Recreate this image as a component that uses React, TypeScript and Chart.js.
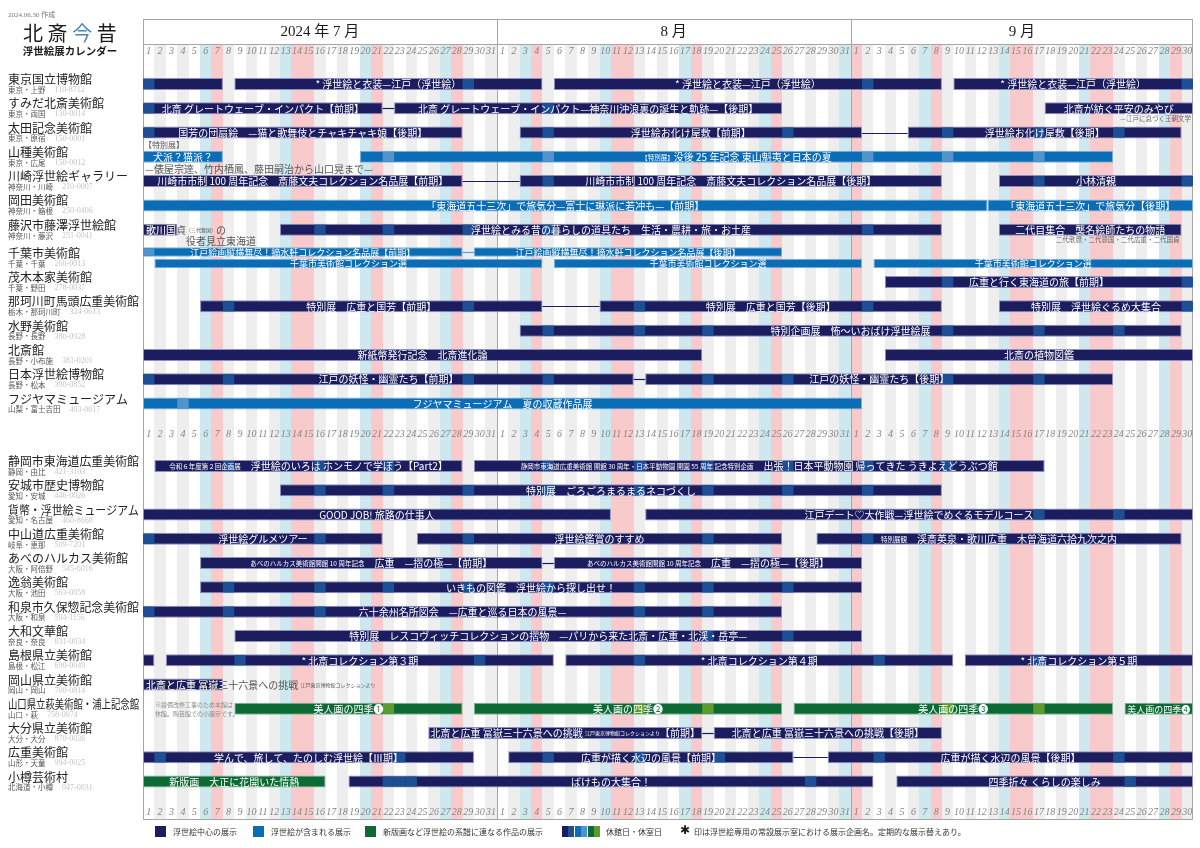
import React, { useEffect, useRef } from 'react';
import { Chart, registerables } from 'chart.js';

Chart.register(...registerables);

// ---------------- data ----------------
const createdNote = '2024.06.30 作成';
const titleChars = ['北', '斎', '今', '昔'];
const titleSub = '浮世絵展カレンダー';
const monthLabels = ['2024 年 7 月', '8 月', '9 月'];
const monthNumbers = [7, 8, 9];
const monthLengths = [31, 31, 30];
const holidays = ['7/15', '8/12', '9/16', '9/23'];

const museumNames = [
  '東京国立博物館', 'すみだ北斎美術館', '太田記念美術館', '山種美術館', '川崎浮世絵ギャラリー',
  '岡田美術館', '藤沢市藤澤浮世絵館', '千葉市美術館', '茂木本家美術館', '那珂川町馬頭広重美術館',
  '水野美術館', '北斎館', '日本浮世絵博物館', 'フジヤマミュージアム',
  '静岡市東海道広重美術館', '安城市歴史博物館', '貨幣・浮世絵ミュージアム', '中山道広重美術館',
  'あべのハルカス美術館', '逸翁美術館', '和泉市久保惣記念美術館', '大和文華館', '島根県立美術館',
  '岡山県立美術館', '山口県立萩美術館・浦上記念館', '大分県立美術館', '広重美術館', '小樽芸術村',
];
const museumPlaces = [
  '東京・上野', '東京・両国', '東京・原宿', '東京・広尾', '神奈川・川崎',
  '神奈川・箱根', '神奈川・藤沢', '千葉・千葉', '千葉・野田', '栃木・那珂川町',
  '長野・長野', '長野・小布施', '長野・松本', '山梨・富士吉田',
  '静岡・由比', '愛知・安城', '愛知・名古屋', '岐阜・恵那',
  '大阪・阿倍野', '大阪・池田', '大阪・和泉', '奈良・奈良', '島根・松江',
  '岡山・岡山', '山口・萩', '大分・大分', '山形・天童', '北海道・小樽',
];
const museumPostcodes = [
  '110-8712', '130-0014', '150-0001', '150-0012', '210-0007',
  '250-0406', '251-0041', '260-0013', '278-0037', '324-0613',
  '380-0928', '381-0201', '390-0852', '403-0017',
  '421-3103', '446-0026', '460-8660', '509-7201',
  '545-6016', '563-0058', '594-1156', '631-0034', '690-0049',
  '700-0814', '758-0074', '870-0036', '994-0025', '047-0031',
];
const groupSizes = [14, 14];

type Kind = 'u' | 'i' | 'n';
type Ex = { m: number; track?: number; from: string; to: string; kind: Kind; title: string; sub?: string; pre?: string; link?: boolean };

const exhibitions: Ex[] = [
  { m: 0, from: '7/1', to: '7/7', kind: 'u', title: '' },
  { m: 0, from: '7/9', to: '8/4', kind: 'u', title: '* 浮世絵と衣装—江戸（浮世絵）' },
  { m: 0, from: '8/6', to: '9/8', kind: 'u', title: '* 浮世絵と衣装—江戸（浮世絵）' },
  { m: 0, from: '9/10', to: '9/30', kind: 'u', title: '* 浮世絵と衣装—江戸（浮世絵）' },
  { m: 1, from: '7/1', to: '7/21', kind: 'u', title: '北斎 グレートウェーブ・インパクト【前期】' },
  { m: 1, from: '7/23', to: '8/25', kind: 'u', title: '北斎 グレートウェーブ・インパクト—神奈川沖浪裏の誕生と軌跡—【後期】', link: true },
  { m: 1, from: '9/18', to: '9/30', kind: 'u', title: '北斎が紡ぐ平安のみやび', sub: '—江戸に息づく王朝文学' },
  { m: 2, from: '7/1', to: '7/28', kind: 'u', title: '国芳の団扇絵　—猫と歌舞伎とチャキチャキ娘【後期】' },
  { m: 2, from: '8/3', to: '9/1', kind: 'u', title: '浮世絵お化け屋敷【前期】' },
  { m: 2, from: '9/6', to: '9/29', kind: 'u', title: '浮世絵お化け屋敷【後期】', link: true },
  { m: 3, from: '7/1', to: '7/7', kind: 'i', title: '犬派？猫派？', pre: '【特別展】', sub: '—俵屋宗達、竹内栖鳳、藤田嗣治から山口晃まで—' },
  { m: 3, from: '7/20', to: '9/23', kind: 'i', title: '{【特別展】}没後 25 年記念 東山魁夷と日本の夏' },
  { m: 4, from: '7/1', to: '7/28', kind: 'u', title: '川崎市市制 100 周年記念　斎藤文夫コレクション名品展【前期】' },
  { m: 4, from: '8/3', to: '9/8', kind: 'u', title: '川崎市市制 100 周年記念　斎藤文夫コレクション名品展【後期】', link: true },
  { m: 4, from: '9/14', to: '9/30', kind: 'u', title: '小林清親' },
  { m: 5, from: '7/1', to: '9/12', kind: 'i', title: '「東海道五十三次」で旅気分—富士に琳派に若冲も—【前期】' },
  { m: 5, from: '9/13', to: '9/30', kind: 'i', title: '「東海道五十三次」で旅気分【後期】', link: true },
  { m: 6, from: '7/1', to: '7/3', kind: 'u', title: '歌川国貞{（三代豊国）}の', sub: '役者見立東海道' },
  { m: 6, from: '7/13', to: '9/8', kind: 'u', title: '浮世絵とみる昔の暮らしの道具たち　生活・農耕・旅・お土産' },
  { m: 6, from: '9/14', to: '9/29', kind: 'u', title: '二代目集合　襲名絵師たちの物語', sub: '二代歌麿・二代豊国・二代広重・二代国貞' },
  { m: 7, track: 0, from: '7/1', to: '7/28', kind: 'i', title: '江戸絵画縦横無尽！摘水軒コレクション名品展【前期】' },
  { m: 7, track: 0, from: '7/30', to: '8/25', kind: 'i', title: '江戸絵画縦横無尽！摘水軒コレクション名品展【後期】', link: true },
  { m: 7, track: 1, from: '7/2', to: '8/4', kind: 'i', title: '千葉市美術館コレクション選' },
  { m: 7, track: 1, from: '8/6', to: '9/1', kind: 'i', title: '千葉市美術館コレクション選' },
  { m: 7, track: 1, from: '9/3', to: '9/30', kind: 'i', title: '千葉市美術館コレクション選' },
  { m: 8, from: '9/4', to: '9/30', kind: 'u', title: '広重と行く東海道の旅【前期】' },
  { m: 9, from: '7/6', to: '8/4', kind: 'u', title: '特別展　広重と国芳【前期】' },
  { m: 9, from: '8/10', to: '9/8', kind: 'u', title: '特別展　広重と国芳【後期】', link: true },
  { m: 9, from: '9/14', to: '9/30', kind: 'u', title: '特別展　浮世絵ぐるめ大集合' },
  { m: 10, from: '8/3', to: '9/29', kind: 'u', title: '特別企画展　怖～いおばけ浮世絵展' },
  { m: 11, from: '7/1', to: '8/18', kind: 'u', title: '新紙幣発行記念　北斎進化論' },
  { m: 11, from: '9/4', to: '9/30', kind: 'u', title: '北斎の植物図鑑' },
  { m: 12, from: '7/1', to: '8/12', kind: 'u', title: '江戸の妖怪・幽霊たち【前期】' },
  { m: 12, from: '8/14', to: '9/23', kind: 'u', title: '江戸の妖怪・幽霊たち【後期】', link: true },
  { m: 13, from: '7/1', to: '9/1', kind: 'i', title: 'フジヤマミュージアム　夏の収蔵作品展' },
  { m: 14, from: '7/2', to: '7/28', kind: 'u', title: '{令和６年度第２回企画展}　浮世絵のいろは ホンモノで学ぼう【Part2】' },
  { m: 14, from: '7/30', to: '9/17', kind: 'u', title: '{静岡市東海道広重美術館 開館 30 周年・日本平動物園 開園 55 周年 記念特別企画}　出張！日本平動物園 帰ってきた うきよえどうぶつ館' },
  { m: 15, from: '7/13', to: '9/8', kind: 'u', title: '特別展　ごろごろまるまるネコづくし' },
  { m: 16, from: '7/1', to: '8/10', kind: 'u', title: 'GOOD JOB! 旅路の仕事人' },
  { m: 16, from: '8/14', to: '9/30', kind: 'u', title: '江戸デート♡大作戦—浮世絵でめぐるモデルコース' },
  { m: 17, from: '7/1', to: '7/21', kind: 'u', title: '浮世絵グルメツアー' },
  { m: 17, from: '7/25', to: '8/25', kind: 'u', title: '浮世絵鑑賞のすすめ' },
  { m: 17, from: '8/29', to: '9/29', kind: 'u', title: '{特別展観}　渓斎英泉・歌川広重　木曽海道六拾九次之内' },
  { m: 18, from: '7/6', to: '8/4', kind: 'u', title: '{あべのハルカス美術館開館 10 周年記念}　広重　—摺の極—【前期】' },
  { m: 18, from: '8/6', to: '9/1', kind: 'u', title: '{あべのハルカス美術館開館 10 周年記念}　広重　—摺の極—【後期】', link: true },
  { m: 19, from: '7/6', to: '9/1', kind: 'u', title: 'いきもの図鑑　浮世絵から探し出せ！' },
  { m: 20, from: '7/1', to: '8/25', kind: 'u', title: '六十余州名所図会　—広重と巡る日本の風景—' },
  { m: 21, from: '7/9', to: '9/1', kind: 'u', title: '特別展　レスコヴィッチコレクションの摺物　—パリから来た北斎・広重・北渓・岳亭—' },
  { m: 22, from: '7/1', to: '7/1', kind: 'u', title: '' },
  { m: 22, from: '7/3', to: '8/5', kind: 'u', title: '* 北斎コレクション第３期' },
  { m: 22, from: '8/7', to: '9/9', kind: 'u', title: '* 北斎コレクション第４期' },
  { m: 22, from: '9/11', to: '9/30', kind: 'u', title: '* 北斎コレクション第５期' },
  { m: 23, from: '7/1', to: '7/7', kind: 'u', title: '北斎と広重 冨嶽三十六景への挑戦 {江戸東京博物館コレクションより}' },
  { m: 24, from: '7/9', to: '7/28', kind: 'n', title: '美人画の四季❶' },
  { m: 24, from: '7/30', to: '8/25', kind: 'n', title: '美人画の四季❷' },
  { m: 24, from: '8/27', to: '9/23', kind: 'n', title: '美人画の四季❸' },
  { m: 24, from: '9/25', to: '9/30', kind: 'n', title: '美人画の四季❹' },
  { m: 25, from: '7/26', to: '8/18', kind: 'u', title: '北斎と広重 冨嶽三十六景への挑戦 {江戸東京博物館コレクションより}【前期】' },
  { m: 25, from: '8/20', to: '9/8', kind: 'u', title: '北斎と広重 冨嶽三十六景への挑戦【後期】', link: true },
  { m: 26, from: '7/1', to: '7/29', kind: 'u', title: '学んで、旅して、たのしむ浮世絵【Ⅲ期】' },
  { m: 26, from: '8/2', to: '8/26', kind: 'u', title: '広重が描く水辺の風景【前期】' },
  { m: 26, from: '8/30', to: '9/30', kind: 'u', title: '広重が描く水辺の風景【後期】', link: true },
  { m: 27, from: '7/1', to: '7/16', kind: 'n', title: '新版画　大正に花開いた情熱' },
  { m: 27, from: '7/19', to: '9/2', kind: 'u', title: 'ばけもの大集合！' },
  { m: 27, from: '9/5', to: '9/30', kind: 'u', title: '四季折々 くらしの楽しみ' },
];

// [museum, track, closed dates]
const closedDays: [number, number, string[]][] = [
  [0, 0, ['7/1', '7/29', '9/2', '9/30']],
  [1, 0, ['7/1', '8/5']],
  [2, 0, ['7/1', '8/5', '8/26', '9/9', '9/17', '9/24']],
  [3, 0, ['7/22', '8/5', '9/2', '9/9', '9/17']],
  [4, 0, ['8/5', '9/17', '9/30']],
  [6, 0, ['7/16', '7/22', '7/29', '8/5', '9/2']],
  [7, 0, ['7/1']],
  [8, 0, ['9/9', '9/30']],
  [9, 0, ['7/8', '7/29', '8/13', '9/2', '9/30']],
  [10, 0, ['8/5', '8/13', '8/19', '9/9', '9/17', '9/24']],
  [12, 0, ['7/1', '7/8', '7/29', '8/5', '8/19', '8/26', '9/9', '9/17']],
  [13, 0, ['7/4']],
  [14, 0, ['7/8', '7/16', '7/22', '8/5', '8/13', '8/19', '8/26', '9/2', '9/9']],
  [15, 0, ['7/16', '7/22', '7/29', '8/5', '8/13', '8/19', '8/26', '9/2']],
  [16, 0, ['9/17', '9/24']],
  [17, 0, ['7/1', '7/16', '7/29', '8/19', '9/2']],
  [19, 0, ['7/8', '7/16', '7/22', '7/29', '8/5', '8/13', '8/19', '8/26']],
  [20, 0, ['7/1', '7/8', '7/16', '8/13', '8/19']],
  [21, 0, ['8/19', '8/26']],
  [22, 0, ['7/9', '7/30', '8/13', '9/3', '9/17']],
  [24, 0, ['7/22', '8/13', '8/19', '9/9', '9/17']],
  [26, 0, ['7/2', '7/23', '8/5', '8/13', '8/20', '9/3', '9/24']],
  [27, 0, ['7/22', '7/23', '7/24', '8/28', '9/25']],
];

const museumNotes: [number, string[]][] = [
  [24, ['※設備改修工事のため本館は', '休館。陶芸館での小展示です。']],
];

const legendKinds: [Kind, string][] = [
  ['u', '浮世絵中心の展示'],
  ['i', '浮世絵が含まれる展示'],
  ['n', '新版画など浮世絵の系譜に連なる作品の展示'],
];
const legendClosed = '休館日・休室日';
const legendNote = '印は浮世絵専用の常設展示室における展示企画名。定期的な展示替えあり。';

// ---------------- styles / layout ----------------
const FONT_JP = '"Noto Sans CJK JP", "Noto Sans", sans-serif';
const FONT_SERIF = '"Liberation Serif", "DejaVu Serif", "Noto Sans CJK JP", serif';
const COLORS: Record<Kind, { fill: string; closed: string; border: string }> = {
  u: { fill: '#1c1d5e', closed: '#1c4f93', border: '#8d8fbf' },
  i: { fill: '#0a6db6', closed: '#4f94cd', border: '#79b1dc' },
  n: { fill: '#0c6b35', closed: '#5c9b2e', border: '#7fb492' },
};
const SAT = '#cde8ee';
const SUN = '#f8cacb';
const GRAY = '#eeeeee';
const WHITE = '#ffffff';

const PX = { top: 19, bottom: 820, left: 143, right: 1193 };
const ROW_PX = 24.28;
const Y_MAX = (PX.bottom - PX.top) / ROW_PX;
const HEADER_UNITS = (44 - PX.top) / ROW_PX;
const LEGEND_X = [155, 253, 365];

const monthStarts = monthLengths.map((_, i) => monthLengths.slice(0, i).reduce((a, b) => a + b, 0));
const TOTAL_DAYS = monthLengths.reduce((a, b) => a + b, 0);

function dayIndex(s: string) {
  const [m, d] = s.split('/').map(Number);
  return monthStarts[monthNumbers.indexOf(m)] + d - 1;
}

function dayInfo() {
  const fills: string[] = [];
  const nums: number[] = [];
  let run = 1;
  monthNumbers.forEach((mo, mi) => {
    for (let d = 1; d <= monthLengths[mi]; d++) {
      const wd = new Date(2024, mo - 1, d).getDay();
      nums.push(d);
      if (wd === 6) { fills.push(SAT); run = 0; }
      else if (wd === 0 || holidays.includes(`${mo}/${d}`)) { fills.push(SUN); run = 0; }
      else { fills.push(run % 2 === 0 ? GRAY : WHITE); run++; }
    }
  });
  return { fills, nums };
}

function buildLayout() {
  const trackCount = museumNames.map((_, m) => 1 + Math.max(0, ...exhibitions.filter((e) => e.m === m).map((e) => e.track || 0)));
  const centers: number[] = [];
  const tracks: number[][] = [];
  const dayRows: number[] = [1.318];
  let y = 2.677;
  let m = 0;
  groupSizes.forEach((n, g) => {
    if (g > 0) {
      const last = centers[centers.length - 1];
      dayRows.push(last + 1.255);
      y = last + 2.574;
    }
    for (let k = 0; k < n; k++, m++) {
      if (trackCount[m] > 1) {
        y += 0.158;
        centers[m] = y;
        tracks[m] = [y - 0.2375, y + 0.2375];
      } else {
        centers[m] = y;
        tracks[m] = [y];
      }
      y += 1;
    }
  });
  dayRows.push(centers[centers.length - 1] + 1.25);
  return { trackCount, centers, tracks, dayRows };
}

function parseSegs(t: string) {
  const segs: { text: string; small: boolean }[] = [];
  const re = /\{([^}]*)\}|([^{]+)/g;
  let mm: RegExpExecArray | null;
  while ((mm = re.exec(t))) {
    if (mm[1] !== undefined) segs.push({ text: mm[1], small: true });
    else segs.push({ text: mm[2], small: false });
  }
  return segs;
}
function measureSegs(ctx: CanvasRenderingContext2D, segs: any[], big: number, small: number) {
  let w = 0;
  segs.forEach((s) => {
    ctx.font = `${s.small ? small : big}px ${FONT_JP}`;
    w += ctx.measureText(s.text).width;
  });
  return w;
}
function drawSegs(ctx: CanvasRenderingContext2D, segs: any[], x: number, y: number, big: number, small: number, color: string) {
  let cx = x;
  ctx.fillStyle = color;
  segs.forEach((s) => {
    ctx.font = `${s.small ? small : big}px ${FONT_JP}`;
    ctx.fillText(s.text, cx, y);
    cx += ctx.measureText(s.text).width;
  });
}

export default function App() {
  const ref = useRef<HTMLCanvasElement>(null);

  useEffect(() => {
    const canvas = ref.current;
    if (!canvas) return;
    const layout = buildLayout();
    const { fills, nums } = dayInfo();

    const datasets: any[] = [];
    const refs: (Ex | null)[][] = [];
    const barIdx: Record<string, number> = {};
    const patchIdx: Record<string, number> = {};
    (['u', 'i', 'n'] as Kind[]).forEach((k) => {
      [false, true].forEach((thin) => {
        barIdx[k + thin] = datasets.length;
        datasets.push({
          label: k + (thin ? '-thin' : ''), data: [], backgroundColor: COLORS[k].fill, borderColor: COLORS[k].border,
          borderWidth: 1, borderSkipped: false, grouped: false, barPercentage: 10, categoryPercentage: 1,
          maxBarThickness: thin ? 9.5 : 12, order: 2,
        });
        refs.push([]);
      });
    });
    (['u', 'i', 'n'] as Kind[]).forEach((k) => {
      [false, true].forEach((thin) => {
        patchIdx[k + thin] = datasets.length;
        datasets.push({
          label: k + '-closed' + (thin ? '-thin' : ''), data: [], backgroundColor: COLORS[k].closed, borderWidth: 0,
          grouped: false, barPercentage: 10, categoryPercentage: 1, maxBarThickness: thin ? 7.5 : 10, order: 1,
        });
        refs.push([]);
      });
    });

    exhibitions.forEach((ex) => {
      const thin = layout.trackCount[ex.m] > 1;
      const di = barIdx[ex.kind + thin];
      datasets[di].data.push({ x: [dayIndex(ex.from), dayIndex(ex.to) + 1], y: layout.tracks[ex.m][ex.track || 0] });
      refs[di].push(ex);
    });
    closedDays.forEach(([m, t, dates]) => {
      dates.forEach((d) => {
        const di = dayIndex(d);
        const ex = exhibitions.find((e) => e.m === m && (e.track || 0) === t && dayIndex(e.from) <= di && di <= dayIndex(e.to));
        if (!ex) return;
        const thin = layout.trackCount[m] > 1;
        const pi = patchIdx[ex.kind + thin];
        datasets[pi].data.push({ x: [di, di + 1], y: layout.tracks[m][t] });
        refs[pi].push(null);
      });
    });

    const calendarPlugin = {
      id: 'calendar',
      beforeDatasetsDraw(chart: any) {
        const { ctx, chartArea: ca } = chart;
        const xs = chart.scales.x;
        const ys = chart.scales.y;
        const px = (d: number) => Math.round(xs.getPixelForValue(d));
        const py = (v: number) => ys.getPixelForValue(v);
        const hb = Math.round(py(HEADER_UNITS));
        ctx.save();
        fills.forEach((c, i) => {
          if (c === WHITE) return;
          ctx.fillStyle = c;
          ctx.fillRect(px(i), hb, px(i + 1) - px(i), ca.bottom - hb);
        });
        ctx.strokeStyle = '#a6a6a6';
        ctx.lineWidth = 1;
        ctx.beginPath();
        ctx.moveTo(ca.left, hb + 0.5);
        ctx.lineTo(ca.right, hb + 0.5);
        monthStarts.slice(1).forEach((d) => {
          ctx.moveTo(px(d) + 0.5, ca.top);
          ctx.lineTo(px(d) + 0.5, ca.bottom);
        });
        ctx.stroke();
        ctx.strokeRect(ca.left + 0.5, ca.top + 0.5, ca.right - ca.left - 1, ca.bottom - ca.top - 1);
        // month titles
        ctx.fillStyle = '#1a1a1a';
        ctx.textAlign = 'center';
        ctx.textBaseline = 'middle';
        ctx.font = `15px ${FONT_SERIF}`;
        monthLabels.forEach((t, i) => {
          const x0 = xs.getPixelForValue(monthStarts[i]);
          const x1 = xs.getPixelForValue(monthStarts[i] + monthLengths[i]);
          ctx.fillText(t, (x0 + x1) / 2, (ca.top + hb) / 2 + 1);
        });
        // day labels
        ctx.font = `italic 10px ${FONT_SERIF}`;
        ctx.fillStyle = '#858585';
        layout.dayRows.forEach((r) => {
          const y = py(r);
          nums.forEach((n, i) => {
            ctx.fillText(String(n), (xs.getPixelForValue(i) + xs.getPixelForValue(i + 1)) / 2, y, 11);
          });
        });
        ctx.restore();
      },
      afterDatasetsDraw(chart: any) {
        const { ctx } = chart;
        const rects = new Map<Ex, { l: number; r: number; y: number; h: number }>();
        Object.values(barIdx).forEach((di) => {
          const meta = chart.getDatasetMeta(di);
          meta.data.forEach((el: any, j: number) => {
            const ex = refs[di][j];
            if (!ex) return;
            rects.set(ex, { l: Math.min(el.base, el.x), r: Math.max(el.base, el.x), y: el.y, h: el.height });
          });
        });
        ctx.save();
        // connectors
        exhibitions.forEach((ex, k) => {
          if (!ex.link) return;
          const prev = exhibitions.slice(0, k).reverse().find((p) => p.m === ex.m && (p.track || 0) === (ex.track || 0));
          if (!prev) return;
          const a = rects.get(prev);
          const b = rects.get(ex);
          if (!a || !b || b.l - a.r < 1) return;
          ctx.strokeStyle = ex.kind === 'i' ? '#5a9fd6' : COLORS[ex.kind].fill;
          ctx.lineWidth = 1.2;
          ctx.beginPath();
          ctx.moveTo(a.r, Math.round(a.y) + 0.5);
          ctx.lineTo(b.l, Math.round(b.y) + 0.5);
          ctx.stroke();
        });
        // labels
        ctx.textBaseline = 'middle';
        ctx.textAlign = 'left';
        exhibitions.forEach((ex) => {
          const r = rects.get(ex);
          if (!r) return;
          const w = r.r - r.l;
          const thin = r.h < 11;
          const ty = r.y + 0.5;
          let tw = 0;
          let tx = r.l + 3;
          let fits = true;
          if (ex.title) {
            const segs = parseSegs(ex.title);
            let big = thin ? 9 : 10;
            let small = 6.5;
            tw = measureSegs(ctx, segs, big, small);
            if (segs.some((s) => s.small)) {
              while (tw > w - 8 && small > 5) { small -= 0.25; tw = measureSegs(ctx, segs, big, small); }
            }
            if (tw > w - 4 && tw < w * 1.25) {
              while (tw > w - 4 && big > 8) { big -= 0.25; tw = measureSegs(ctx, segs, big, small); }
            }
            fits = tw <= w - 4;
            if (fits) {
              tx = r.l + (w - tw) / 2;
              drawSegs(ctx, segs, tx, ty, big, small, '#ffffff');
            } else {
              tx = r.l + 3;
              drawSegs(ctx, segs, tx, ty, big, small, '#555555');
              ctx.save();
              ctx.beginPath();
              ctx.rect(r.l, r.y - r.h / 2, w, r.h);
              ctx.clip();
              drawSegs(ctx, segs, tx, ty, big, small, '#ffffff');
              ctx.restore();
            }
          }
          if (ex.pre) {
            ctx.font = `8px ${FONT_JP}`;
            ctx.fillStyle = '#555555';
            ctx.fillText(ex.pre, r.l + 1, r.y - 11.5);
          }
          if (ex.sub) {
            ctx.font = `6.5px ${FONT_JP}`;
            const sw = ctx.measureText(ex.sub).width;
            if (sw < w && fits) {
              ctx.fillStyle = '#666666';
              ctx.textAlign = 'right';
              ctx.fillText(ex.sub, r.r - 2, r.y + 10);
              ctx.textAlign = 'left';
            } else {
              ctx.font = `10px ${FONT_JP}`;
              ctx.fillStyle = '#555555';
              const sx = fits ? r.l + 2 : tx + tw / 2;
              ctx.fillText(ex.sub, sx, r.y + 12);
            }
          }
        });
        // notes inside rows
        museumNotes.forEach(([m, lines]) => {
          const y = chart.scales.y.getPixelForValue(layout.centers[m]);
          ctx.font = `6px ${FONT_JP}`;
          ctx.fillStyle = '#8a8a8a';
          lines.forEach((l, i) => ctx.fillText(l, chart.chartArea.left + 12, y - 4.5 + i * 9));
        });
        ctx.restore();
      },
      afterDraw(chart: any) {
        const { ctx } = chart;
        const ys = chart.scales.y;
        ctx.save();
        ctx.textBaseline = 'middle';
        ctx.textAlign = 'left';
        // title block
        ctx.font = `7px ${FONT_SERIF}`;
        ctx.fillStyle = '#777777';
        ctx.fillText(createdNote, 8, 15);
        ctx.font = `20px ${FONT_JP}`;
        ctx.textAlign = 'center';
        titleChars.forEach((c, i) => {
          ctx.fillStyle = i === 2 ? '#4a86b9' : '#1a1a1a';
          ctx.fillText(c, 33 + i * 24.6, 33);
        });
        ctx.font = `bold 10.5px ${FONT_JP}`;
        ctx.fillStyle = '#1a1a1a';
        ctx.fillText(titleSub, 70, 51);
        ctx.textAlign = 'left';
        // museum names
        museumNames.forEach((name, m) => {
          const c = ys.getPixelForValue(layout.centers[m]);
          ctx.font = `12px ${FONT_JP}`;
          ctx.fillStyle = '#222222';
          ctx.fillText(name, 8, c - 4.5, 131);
          ctx.font = `7.5px ${FONT_JP}`;
          ctx.fillStyle = '#555555';
          ctx.fillText(museumPlaces[m], 8, c + 6);
          const pw = ctx.measureText(museumPlaces[m]).width;
          ctx.font = `8px ${FONT_SERIF}`;
          ctx.fillStyle = '#c6c6c6';
          ctx.fillText(museumPostcodes[m], 8 + pw + 9, c + 6);
        });
        // legend
        const ly = 831;
        ctx.font = `8px ${FONT_JP}`;
        legendKinds.forEach(([k, t], i) => {
          const lx = LEGEND_X[i];
          ctx.fillStyle = COLORS[k].fill;
          ctx.fillRect(lx, ly - 5, 11, 11);
          ctx.fillStyle = '#333333';
          ctx.fillText(t, lx + 18, ly + 0.5);
        });
        let lx = 562;
        (['u', 'i', 'n'] as Kind[]).forEach((k) => {
          ctx.fillStyle = COLORS[k].fill;
          ctx.fillRect(lx, ly - 5, 6, 11);
          ctx.fillStyle = COLORS[k].closed;
          ctx.fillRect(lx + 6, ly - 5, 6, 11);
          lx += 13;
        });
        ctx.fillStyle = '#333333';
        ctx.fillText(legendClosed, 606, ly + 0.5);
        ctx.font = `bold 12px "DejaVu Sans", sans-serif`;
        ctx.fillStyle = '#1a1a1a';
        ctx.fillText('✱', 680, ly);
        ctx.font = `8px ${FONT_JP}`;
        ctx.fillStyle = '#333333';
        ctx.fillText(legendNote, 694, ly + 0.5);
        ctx.restore();
      },
    };

    const chart = new Chart(canvas, {
      type: 'bar',
      data: { datasets },
      options: {
        indexAxis: 'y',
        animation: false,
        responsive: false,
        maintainAspectRatio: false,
        layout: { padding: { left: PX.left, right: 1200 - PX.right, top: PX.top, bottom: 848 - PX.bottom } },
        scales: {
          x: { type: 'linear', min: 0, max: TOTAL_DAYS, display: false, offset: false, grid: { offset: false } },
          y: { type: 'linear', min: 0, max: Y_MAX, reverse: true, display: false, offset: false, grid: { offset: false } },
        },
        plugins: { legend: { display: false }, tooltip: { enabled: false }, title: { display: false } },
      } as any,
      plugins: [calendarPlugin],
    });
    return () => chart.destroy();
  }, []);

  return (
    <div style={{ position: 'absolute', left: 0, top: 0, width: 1200, height: 848, background: '#ffffff' }}>
      <canvas ref={ref} width={1200} height={848} style={{ display: 'block', width: 1200, height: 848 }} />
    </div>
  );
}
